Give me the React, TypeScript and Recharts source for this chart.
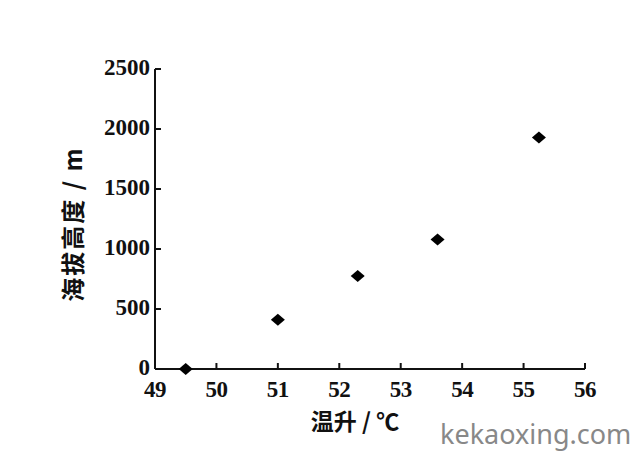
import React from "react";
import { ScatterChart, Scatter, XAxis, YAxis, Label } from "recharts";

const temps = [49.5, 51, 52.3, 53.6, 55.25];
const altitudes = [0, 410, 775, 1080, 1930];
const xTicks = [49, 50, 51, 52, 53, 54, 55, 56];
const yTicks = [0, 500, 1000, 1500, 2000, 2500];
const xTitle = "温升 / ℃";
const yTitle = "海拔高度 / m";

const data = temps.map((t, i) => ({ t, h: altitudes[i] }));

const numFont = "'Liberation Serif', 'Times New Roman', serif";
const cjkFont = "'Noto Sans CJK SC', sans-serif";

const XTick = (props: any) => {
  const { x, y, payload } = props;
  const axisY = y - 10;
  return (
    <g>
      <path d={`M${x},${axisY}L${x},${axisY - 6}`} stroke="#111" strokeWidth={2} fill="none" />
      <text x={x} y={y} dy={18} textAnchor="middle" fontFamily={numFont} fontWeight="bold" fontSize={23} fill="#111" letterSpacing={-0.5}>
        {payload.value}
      </text>
    </g>
  );
};

const YTick = (props: any) => {
  const { x, y, payload } = props;
  const axisX = x + 5;
  return (
    <g>
      <path d={`M${axisX},${y}L${axisX + 6},${y}`} stroke="#111" strokeWidth={2} fill="none" />
      <text x={x} y={y} dy={6} textAnchor="end" fontFamily={numFont} fontWeight="bold" fontSize={23} fill="#111" letterSpacing={0}>
        {payload.value}
      </text>
    </g>
  );
};

const Diamond = (props: any) => {
  const { cx, cy } = props;
  if (cx == null || cy == null) return null;
  const w = 7;
  const h = 6;
  return (
    <polygon
      points={`${cx - w},${cy} ${cx},${cy - h} ${cx + w},${cy} ${cx},${cy + h}`}
      fill="#000"
    />
  );
};

const XTitle = (props: any) => {
  const { viewBox } = props;
  const cx = viewBox.x + viewBox.width / 2 - 15;
  return (
    <text x={cx} y={viewBox.y + 61} textAnchor="middle" fontFamily={cjkFont} fontWeight="bold" fontSize={23} fill="#111">
      {xTitle}
    </text>
  );
};

const YTitle = (props: any) => {
  const { viewBox } = props;
  const cy = viewBox.y + viewBox.height / 2 + 5;
  const cx = viewBox.x + viewBox.width - 84;
  return (
    <text
      x={cx}
      y={cy}
      textAnchor="middle"
      dominantBaseline="central"
      transform={`rotate(-90, ${cx}, ${cy})`}
      fontFamily={cjkFont}
      fontWeight="bold"
      fontSize={24}
      letterSpacing={2}
      fill="#111"
    >
      {yTitle}
    </text>
  );
};

export default function App() {
  return (
    <div style={{ position: "absolute", left: 0, top: 0, width: 638, height: 462, background: "#fff" }}>
      <ScatterChart width={638} height={462} margin={{ top: 69, right: 53, bottom: 43, left: 55 }}>
        <XAxis
          type="number"
          dataKey="t"
          domain={[49, 56]}
          ticks={xTicks}
          height={50}
          tickSize={0}
          tickMargin={10}
          tick={<XTick />}
          tickLine={false}
          axisLine={{ stroke: "#111", strokeWidth: 2 }}
          interval={0}
        >
          <Label content={<XTitle />} />
        </XAxis>
        <YAxis
          type="number"
          dataKey="h"
          domain={[0, 2500]}
          ticks={yTicks}
          width={100}
          tickSize={0}
          tickMargin={5}
          tick={<YTick />}
          tickLine={false}
          axisLine={{ stroke: "#111", strokeWidth: 2 }}
          interval={0}
        >
          <Label content={<YTitle />} />
        </YAxis>
        <Scatter data={data} shape={<Diamond />} isAnimationActive={false} />
      </ScatterChart>
      <div
        style={{
          position: "absolute",
          left: 440,
          top: 415,
          fontFamily: "'Noto Sans', sans-serif",
          fontSize: 27,
          color: "#888",
        }}
      >
        kekaoxing.com
      </div>
    </div>
  );
}
